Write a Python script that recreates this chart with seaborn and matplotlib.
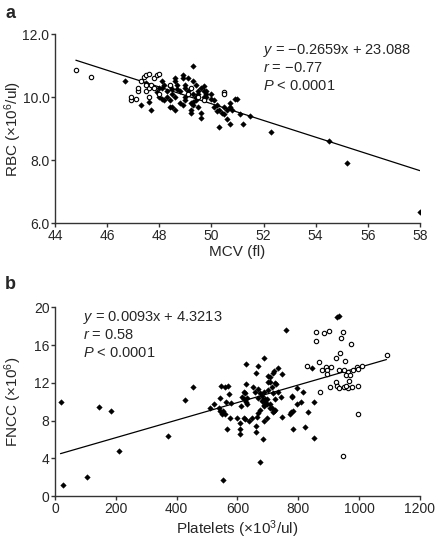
import numpy as np
import pandas as pd
import matplotlib
matplotlib.use('Agg')
import matplotlib.pyplot as plt
import seaborn as sns

sns.set_theme(style='ticks')
plt.rcParams['font.family'] = ['Liberation Sans', 'DejaVu Sans']
plt.rcParams['mathtext.fontset'] = 'custom'
plt.rcParams['mathtext.rm'] = 'Liberation Sans'
plt.rcParams['mathtext.it'] = 'Liberation Sans:italic'

# panel a: MCV vs RBC
mcv_filled = [46.7, 47.3, 47.6, 47.7, 48.0, 48.1, 48.1, 48.2, 48.2, 48.3, 48.4, 48.4, 48.5, 48.5,
              48.6, 48.6, 48.6, 48.6, 48.7, 48.8, 48.8, 48.9, 48.9, 48.9, 49.0, 49.0, 49.0, 49.1,
              49.2, 49.2, 49.2, 49.3, 49.3, 49.3, 49.3, 49.4, 49.4, 49.5, 49.5, 49.6, 49.6, 49.6,
              49.7, 49.7, 49.8, 50.0, 50.0, 50.1, 50.2, 50.2, 50.3, 50.4, 50.5, 50.5, 50.6, 50.6,
              50.7, 50.7, 50.7, 50.8, 50.9, 51.0, 51.1, 51.2, 51.5, 52.3, 54.5, 55.2, 58.0,
              48.3, 48.7, 49.1, 49.8, 48.4, 49.4, 49.8, 50.3, 48.0, 48.1, 49.5, 49.0, 50.1, 48.5,
              49.3, 49.7, 47.5, 47.9]
rbc_filled = [10.5, 9.75, 9.85, 9.6, 10.0, 10.5, 10.3, 10.4, 9.9, 10.2, 10.35, 9.7, 9.7, 10.1,
              10.6, 10.5, 10.0, 9.6, 10.25, 10.2, 9.8, 9.75, 10.7, 10.6, 10.3, 10.0, 9.9, 10.2,
              9.5, 9.6, 9.8, 11.0, 10.5, 10.1, 9.75, 10.4, 10.0, 10.2, 10.1, 10.3, 9.5, 9.35,
              10.2, 10.35, 10.1, 10.1, 9.95, 9.9, 9.75, 9.55, 9.05, 9.5, 9.45, 9.7, 9.3, 9.6,
              9.8, 9.7, 9.15, 9.6, 9.95, 9.95, 9.45, 9.15, 9.4, 8.9, 8.6, 7.9, 6.35,
              10.0, 10.4, 10.6, 10.0, 9.9, 9.9, 10.2, 9.6, 10.3, 9.95, 9.7, 10.4, 9.7, 10.25,
              9.85, 10.0, 10.45, 10.15]
mcv_open = [44.8, 45.4, 46.9, 46.9, 47.1, 47.2, 47.2, 47.3, 47.4, 47.5, 47.6, 47.5, 47.6, 47.6,
            47.7, 47.8, 47.9, 48.0, 47.8, 48.0, 47.5, 48.4, 49.2, 49.7, 50.5, 50.5, 49.5, 49.1]
rbc_open = [10.85, 10.65, 9.9, 10.0, 9.95, 10.2, 10.3, 10.5, 10.65, 10.7, 10.75, 10.2, 10.3, 10.0,
            10.4, 10.6, 10.7, 10.75, 10.3, 10.1, 10.4, 10.4, 10.3, 9.9, 10.15, 10.1, 10.0, 10.1]

# panel b: platelets vs FNCC
plt_filled = [21, 27, 104, 144, 183, 210, 371, 427, 455,
              511, 524, 538, 541, 541, 546, 549, 554, 554, 558, 560, 563, 566, 568, 571, 574, 579,
              598, 607, 609, 607, 612, 615, 620, 620, 622, 626, 626, 629, 629, 629, 633, 633, 639,
              648, 651, 658, 662, 662, 662, 664, 666, 666, 669, 669, 673, 675, 675, 680, 680, 684,
              684, 686, 686, 688, 688, 688, 691, 691, 697, 697, 697, 699, 702, 702, 708, 708, 708,
              708, 713, 714, 716, 716, 718, 719, 721, 724, 724, 724, 727, 732, 735, 743, 746, 746,
              760, 773, 776, 779, 781, 784, 784, 795, 795, 808, 815, 822, 833, 844, 852, 852, 928, 935]
fncc_filled = [10.0, 1.2, 2.0, 9.4, 9.0, 4.8, 6.4, 10.2, 11.5,
               9.3, 9.8, 9.3, 10.4, 9.0, 11.7, 8.7, 9.0, 1.7, 11.5, 8.7, 10.0, 7.1, 11.7, 10.8, 8.3, 9.9,
               8.3, 7.7, 7.1, 6.6, 9.5, 10.5, 11.0, 8.3, 10.3, 10.9, 8.2, 14.0, 11.9, 10.0, 10.4, 9.8, 7.9,
               8.3, 11.6, 11.0, 13.0, 7.4, 6.8, 8.4, 13.8, 10.4, 11.3, 8.8, 9.1, 10.9, 3.6, 10.6, 10.1, 10.2,
               6.0, 14.6, 9.5, 11.0, 9.6, 8.0, 10.0, 10.3, 10.3, 9.8, 8.3, 12.1, 12.7, 11.2, 12.1, 12.6, 9.7,
               9.3, 11.6, 9.3, 13.0, 8.9, 10.9, 13.2, 9.0, 12.0, 10.3, 9.1, 11.9, 11.0, 13.6, 10.5, 12.9, 8.4,
               17.6, 8.7, 8.9, 10.5, 10.6, 7.1, 9.0, 11.4, 9.7, 10.0, 11.0, 7.3, 8.9, 13.6, 10.0, 6.1, 19.0, 19.05]
plt_open = [859, 859, 885, 902, 946, 940, 973, 938, 954, 924, 869, 828, 877, 891, 893, 908, 894, 935,
            964, 980, 993, 1009, 1091, 997, 958, 971, 967, 924, 929, 935, 904, 871, 949, 964, 978, 997,
            997, 946, 958, 949]
fncc_open = [16.4, 17.4, 17.3, 17.5, 17.4, 16.7, 16.1, 15.2, 14.3, 14.6, 14.2, 13.8, 13.4, 13.7, 13.3,
             13.7, 12.9, 13.4, 13.1, 13.3, 13.7, 13.8, 14.9, 13.5, 12.8, 12.8, 12.2, 12.1, 11.7, 11.4,
             11.5, 11.0, 11.5, 11.4, 11.5, 11.7, 8.7, 4.2, 11.7, 13.4]

# regression lines reported in the figure (slope, intercept, x range)
fit_a = (-0.2659, 23.088, 44.8, 58.0)
fit_b = (0.0093, 4.3213, 18, 1090)

df_a = pd.concat([pd.DataFrame({'x': mcv_filled, 'y': rbc_filled, 'g': 'filled'}),
                  pd.DataFrame({'x': mcv_open, 'y': rbc_open, 'g': 'open'})])
df_b = pd.concat([pd.DataFrame({'x': plt_filled, 'y': fncc_filled, 'g': 'filled'}),
                  pd.DataFrame({'x': plt_open, 'y': fncc_open, 'g': 'open'})])

fig = plt.figure(figsize=(4.38, 5.44), dpi=100)
ax1 = fig.add_axes([0.1256, 0.590, 0.833, 0.347])
ax2 = fig.add_axes([0.1256, 0.0882, 0.833, 0.347])


def draw(ax, df, fit):
    sns.scatterplot(data=df[df.g == 'filled'], x='x', y='y', marker='D', s=8, color='black',
                    edgecolor='black', linewidth=0.3, ax=ax, zorder=3)
    sns.scatterplot(data=df[df.g == 'open'], x='x', y='y', marker='o', s=10, facecolor='white',
                    edgecolor='black', linewidth=0.8, ax=ax, zorder=3)
    xs = np.array([fit[2], fit[3]])
    ax.plot(xs, fit[0] * xs + fit[1], color='black', lw=0.9, zorder=2)
    sns.despine(ax=ax)
    for s in ['left', 'bottom']:
        ax.spines[s].set_linewidth(1.0)
        ax.spines[s].set_color('#333333')
    ax.tick_params(direction='out', length=3, width=1.0, color='#333333', labelsize=10, pad=1)


draw(ax1, df_a, fit_a)
ax1.set_xlim(44, 58)
ax1.set_ylim(6, 12)
ax1.set_xticks(np.arange(44, 59, 2))
ax1.set_yticks([6, 8, 10, 12])
ax1.set_yticklabels(['6.0', '8.0', '10.0', '12.0'])
ax1.set_xlabel('MCV (fl)', fontsize=11, labelpad=2)
ax1.set_ylabel('RBC (×10$^{6}$/ul)', fontsize=11)
ax1.yaxis.set_label_coords(-0.086, 0.5)
ax1.text(0.57, 0.915, r'$y$ = −0.2659x + 23.088', transform=ax1.transAxes, fontsize=10.5, va='center')
ax1.text(0.57, 0.82, r'$r$ = −0.77', transform=ax1.transAxes, fontsize=10.5, va='center')
ax1.text(0.57, 0.725, r'$P$ < 0.0001', transform=ax1.transAxes, fontsize=10.5, va='center')
fig.text(0.012, 0.975, 'a', fontsize=13, fontweight='bold', va='center')

draw(ax2, df_b, fit_b)
ax2.set_xlim(0, 1200)
ax2.set_ylim(0, 20)
ax2.set_xticks(np.arange(0, 1201, 200))
ax2.set_yticks(np.arange(0, 21, 4))
ax2.set_xlabel('Platelets (×10$^{3}$/ul)', fontsize=11, labelpad=2)
ax2.set_ylabel('FNCC (×10$^{6}$)', fontsize=11)
ax2.yaxis.set_label_coords(-0.086, 0.5)
ax2.text(0.077, 0.947, r'$y$ = 0.0093x + 4.3213', transform=ax2.transAxes, fontsize=10.5, va='center')
ax2.text(0.077, 0.852, r'$r$ = 0.58', transform=ax2.transAxes, fontsize=10.5, va='center')
ax2.text(0.077, 0.757, r'$P$ < 0.0001', transform=ax2.transAxes, fontsize=10.5, va='center')
fig.text(0.012, 0.477, 'b', fontsize=13, fontweight='bold', va='center')

for ax in (ax1, ax2):
    leg = ax.get_legend()
    if leg:
        leg.remove()

fig.savefig('out.png', dpi=100)
